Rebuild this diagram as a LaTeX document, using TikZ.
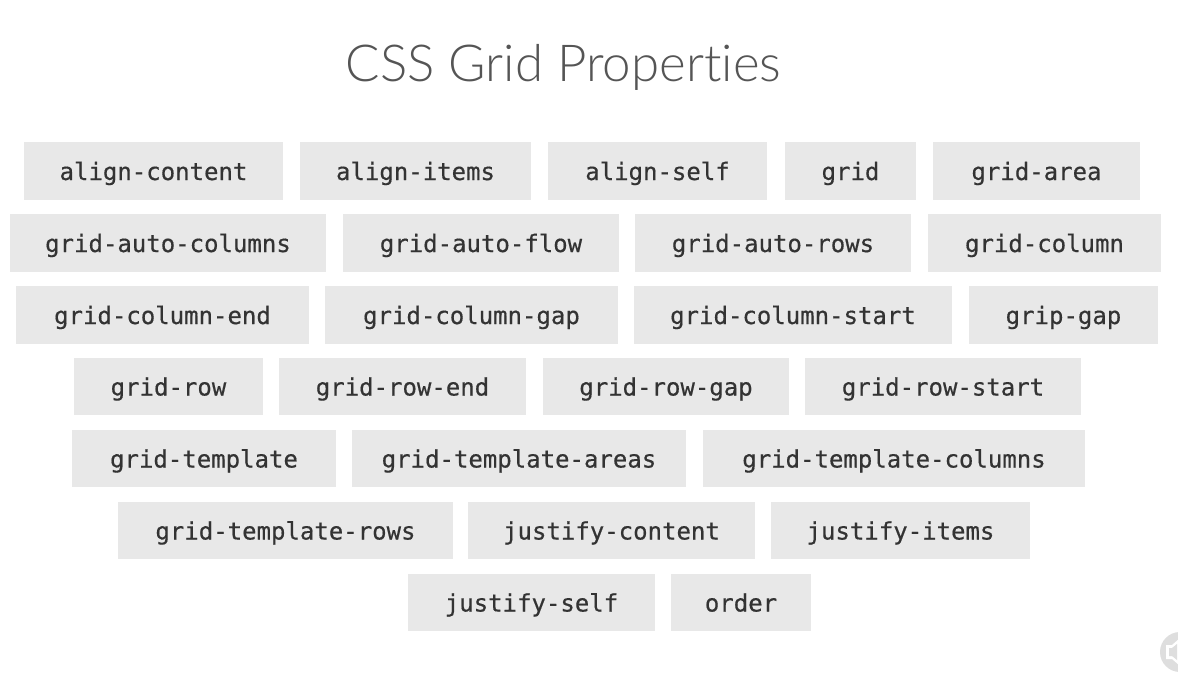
\documentclass[tikz,border=0pt]{standalone}
\usepackage{fontspec}
\newfontfamily\boxfont{DejaVu Sans Mono}[FakeBold=0.5]
\IfFontExistsTF{Lato Light}{\newfontfamily\titlefont{Lato Light}[Ligatures=NoCommon]}{\newfontfamily\titlefont{Lato}[Ligatures=NoCommon]}
\definecolor{boxgray}{HTML}{E8E8E8}
\definecolor{txt}{HTML}{333333}
\definecolor{titletxt}{HTML}{555555}
\tikzset{
  pbox/.style={fill=boxgray, draw=none, inner sep=0pt, text height=18pt, text depth=0pt,
    font=\boxfont\fontsize{24}{24}\selectfont, text=txt},
  r1/.style={minimum height=58pt},
  r2/.style={minimum height=57pt}
}
\begin{document}
\begin{tikzpicture}[x=1pt,y=-1pt]
\useasboundingbox[fill=white] (0,0) rectangle (1178,678);
\node[anchor=base, inner sep=0pt, text=titletxt, font=\titlefont\fontsize{51}{51}\selectfont] (title) at (563.5,81) {CSS Grid Properties};
% row 1
\node[pbox,r1,minimum width=259pt] (ac) at (153.5,171) {align-content};
\node[pbox,r1,minimum width=231pt] (ai) at (415.5,171) {align-items};
\node[pbox,r1,minimum width=219pt] (as) at (657.5,171) {align-self};
\node[pbox,r1,minimum width=131pt] (gr) at (850.5,171) {grid};
\node[pbox,r1,minimum width=207pt] (ga) at (1036.5,171) {grid-area};
% row 2
\node[pbox,r1,minimum width=316pt] (gac) at (168,243) {grid-auto-columns};
\node[pbox,r1,minimum width=276pt] (gaf) at (481,243) {grid-auto-flow};
\node[pbox,r1,minimum width=276pt] (gar) at (773,243) {grid-auto-rows};
\node[pbox,r1,minimum width=233pt] (gc) at (1044.5,243) {grid-column};
% row 3
\node[pbox,r1,minimum width=293pt] (gce) at (162.5,315) {grid-column-end};
\node[pbox,r1,minimum width=293pt] (gcg) at (471.5,315) {grid-column-gap};
\node[pbox,r1,minimum width=318pt] (gcs) at (793,315) {grid-column-start};
\node[pbox,r1,minimum width=189pt] (gg) at (1063.5,315) {grip-gap};
% row 4
\node[pbox,r2,minimum width=189pt] (grw) at (168.5,386.5) {grid-row};
\node[pbox,r2,minimum width=247pt] (gre) at (402.5,386.5) {grid-row-end};
\node[pbox,r2,minimum width=246pt] (grg) at (666,386.5) {grid-row-gap};
\node[pbox,r2,minimum width=276pt] (grs) at (943,386.5) {grid-row-start};
% row 5
\node[pbox,r2,minimum width=264pt] (gt) at (204,458.5) {grid-template};
\node[pbox,r2,minimum width=334pt] (gta) at (519,458.5) {grid-template-areas};
\node[pbox,r2,minimum width=382pt] (gtc) at (894,458.5) {grid-template-columns};
% row 6
\node[pbox,r2,minimum width=335pt] (gtr) at (285.5,530.5) {grid-template-rows};
\node[pbox,r2,minimum width=287pt] (jc) at (611.5,530.5) {justify-content};
\node[pbox,r2,minimum width=259pt] (ji) at (900.5,530.5) {justify-items};
% row 7
\node[pbox,r2,minimum width=247pt] (js) at (531.5,602.5) {justify-self};
\node[pbox,r2,minimum width=140pt] (ord) at (741,602.5) {order};
% corner badge
\begin{scope}
\clip (0,0) rectangle (1178,678);
\fill[black!13] (1180,652) circle (20);
\fill[white] (1166,645) -- (1172,645) -- (1180,638) -- (1180,666) -- (1172,659) -- (1166,659) -- cycle;
\fill[black!13] (1169,648) -- (1172,648) -- (1177,644) -- (1177,660) -- (1172,656) -- (1169,656) -- cycle;
\end{scope}
\end{tikzpicture}
\end{document}
